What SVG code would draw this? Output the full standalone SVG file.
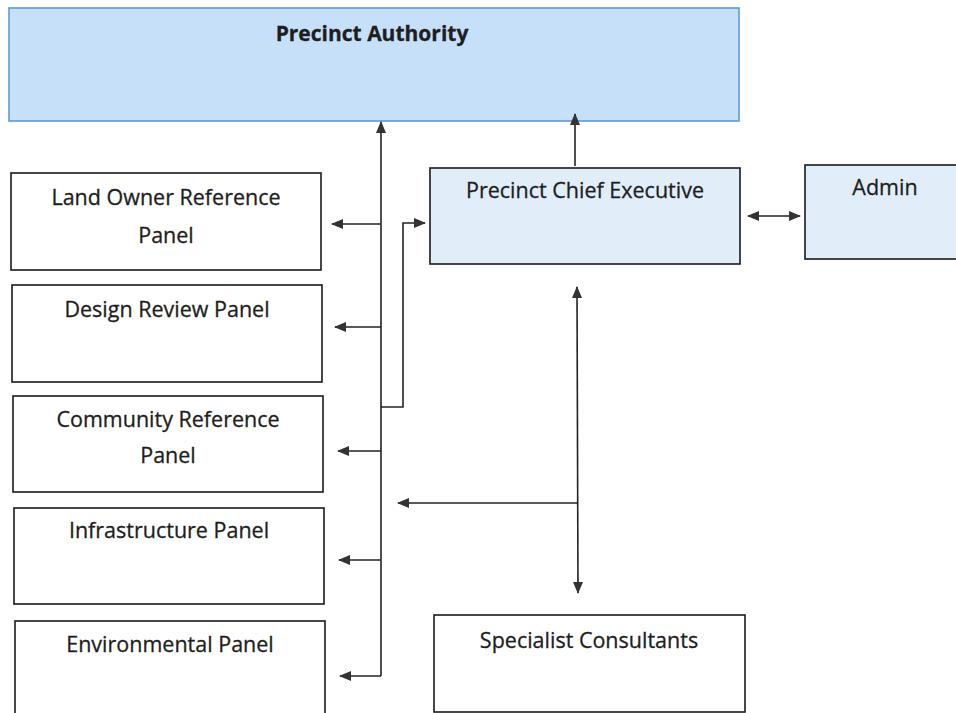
<svg xmlns="http://www.w3.org/2000/svg" width="956" height="713" viewBox="0 0 956 713">
<style>
.box{fill:#ffffff;stroke:#1a1a1a;stroke-width:1.6}
.blue{fill:#e1eefa;stroke:#1a1a1a;stroke-width:1.6}
.auth{fill:#c6e0f9;stroke:#5b9bd5;stroke-width:1.6}
.t{font-family:"Open Sans","Liberation Sans",sans-serif;font-size:21.5px;fill:#1e1e1e;text-anchor:middle;stroke:#1e1e1e;stroke-width:0.3}
.b{font-weight:bold;font-size:21px}
.c{fill:none;stroke:#222;stroke-width:1.6}
</style>
<defs>
<marker id="ah" viewBox="0 0 12 10" refX="11" refY="5" markerWidth="12" markerHeight="10" markerUnits="userSpaceOnUse" orient="auto-start-reverse">
<path d="M0,0 L12,5 L0,10 Z" fill="#333"/>
</marker>
</defs>
<rect width="956" height="713" fill="#ffffff"/>
<g id="authority">
<rect class="auth" x="9" y="8" width="730" height="113"/>
<text class="t b" x="372" y="41">Precinct Authority</text>
</g>
<g id="land-owner">
<rect class="box" x="11" y="173" width="310" height="97"/>
<text class="t" x="166" y="205">Land Owner Reference</text>
<text class="t" x="166" y="243">Panel</text>
</g>
<g id="design-review">
<rect class="box" x="12" y="285" width="310" height="97"/>
<text class="t" x="167" y="317">Design Review Panel</text>
</g>
<g id="community">
<rect class="box" x="13" y="396" width="310" height="96"/>
<text class="t" x="168" y="427">Community Reference</text>
<text class="t" x="168" y="463">Panel</text>
</g>
<g id="infrastructure">
<rect class="box" x="14" y="508" width="310" height="96"/>
<text class="t" x="169" y="538">Infrastructure Panel</text>
</g>
<g id="environmental">
<rect class="box" x="15" y="621" width="310" height="100"/>
<text class="t" x="170" y="652">Environmental Panel</text>
</g>
<g id="chief-executive">
<rect class="blue" x="430" y="168" width="310" height="96"/>
<text class="t" x="585" y="198">Precinct Chief Executive</text>
</g>
<g id="admin">
<rect class="blue" x="805" y="165" width="160" height="94"/>
<text class="t" x="885" y="195">Admin</text>
</g>
<g id="specialist">
<rect class="box" x="434" y="615" width="311" height="97"/>
<text class="t" x="589" y="648">Specialist Consultants</text>
</g>
<g id="connectors">
<path class="c" d="M381,676 L381,122" marker-end="url(#ah)"/>
<path class="c" d="M381,676 L340,676" marker-end="url(#ah)"/>
<path class="c" d="M381,224 L332,224" marker-end="url(#ah)"/>
<path class="c" d="M381,327 L335,327" marker-end="url(#ah)"/>
<path class="c" d="M381,451 L338,451" marker-end="url(#ah)"/>
<path class="c" d="M381,560 L339,560" marker-end="url(#ah)"/>
<path class="c" d="M381,407 L403,407 L403,223 L425,223" marker-end="url(#ah)"/>
<path class="c" d="M575,166 L575,114" marker-end="url(#ah)"/>
<path class="c" d="M577,287 L578,593" marker-start="url(#ah)" marker-end="url(#ah)"/>
<path class="c" d="M577,503 L398,503" marker-end="url(#ah)"/>
<path class="c" d="M748,216 L800,216" marker-start="url(#ah)" marker-end="url(#ah)"/>
</g>
</svg>
